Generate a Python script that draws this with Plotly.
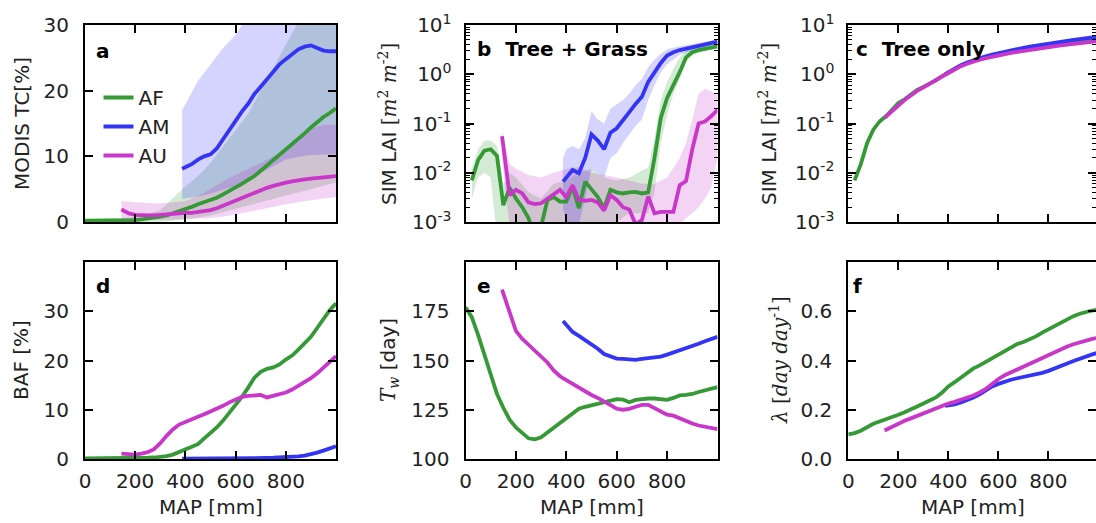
import plotly.graph_objects as go

# ---------------------------------------------------------------- data
# MAP bins (mm) for each climate class
MAP_AF = list(range(0, 1001, 25))
MAP_AM = [387] + list(range(400, 1001, 25))
MAP_AU = [145] + list(range(175, 1001, 25))

# (a) MODIS tree cover [%]
TC_AF = [0.2, 0.2, 0.2, 0.2, 0.2, 0.2, 0.2, 0.25, 0.3, 0.4, 0.5, 0.6, 0.8, 1.0, 1.3,
         1.6, 1.9, 2.3, 2.7, 3.0, 3.3, 3.7, 4.2, 4.7, 5.2, 5.8, 6.4, 7.0, 7.8, 8.6,
         9.4, 10.3, 11.0, 11.8, 12.6, 13.5, 14.4, 15.3, 16.0, 16.6, 17.3]
TC_AM = [8.1, 8.3, 8.8, 9.5, 10.0, 10.3, 11.2, 12.6, 14.0, 15.5, 16.8, 18.0, 19.5,
         20.6, 21.8, 23.0, 24.0, 24.8, 25.6, 26.3, 26.7, 26.9, 26.5, 26.1, 26.0, 26.0]
TC_AU = [1.9, 1.3, 1.1, 1.0, 1.0, 1.0, 1.1, 1.2, 1.3, 1.3, 1.4, 1.4, 1.5, 1.6, 1.8,
         2.1, 2.5, 2.9, 3.3, 3.7, 4.1, 4.5, 4.9, 5.2, 5.5, 5.8, 6.0, 6.2, 6.4, 6.5,
         6.6, 6.7, 6.8, 6.9, 7.0]

# (a) spread of tree cover
TC_AF_BAND_X = [0, 100, 200, 300, 387, 450, 500, 550, 600, 650, 700, 750, 800, 850, 900, 950, 1000]
TC_AF_LO = [0, 0, 0, 0.05, 0.3, 0.7, 1.0, 1.5, 2.0, 2.5, 3.0, 3.5, 4.0, 4.5, 5.0, 5.5, 6.0]
TC_AF_HI = [0.4, 0.5, 0.8, 1.8, 5.0, 7.0, 9.0, 11.5, 14.0, 16.5, 20.0, 23.5, 27.0, 30.5, 32, 32, 32]
TC_AM_BAND_X = [387, 450, 500, 550, 600, 625, 650, 700, 750, 800, 850, 900, 950, 1000]
TC_AM_LO = [3.5, 3.9, 4.3, 4.9, 5.5, 6.0, 6.5, 7.5, 8.5, 9.5, 9.9, 10.2, 10.3, 10.3]
TC_AM_HI = [17.0, 21.5, 24.0, 26.5, 28.5, 30.0, 31, 32, 33, 33, 33, 33, 33, 33]
TC_AU_BAND_X = [145, 200, 300, 400, 450, 500, 550, 600, 700, 800, 850, 900, 950, 1000]
TC_AU_LO = [0.5, 0.3, 0.3, 0.4, 0.5, 0.6, 0.8, 1.1, 1.9, 2.7, 3.0, 3.3, 3.6, 3.8]
TC_AU_HI = [3.2, 3.0, 2.8, 3.2, 4.0, 5.0, 6.2, 7.2, 9.0, 11.0, 12.5, 14.2, 14.8, 14.8]

# (b) simulated LAI, tree + grass [m2 m-2]
LAI_TG_AF = [None, 0.007, 0.018, 0.028, 0.030, 0.022, 0.0022, 0.005, 0.003, 0.002,
             0.0012, 0.0005, 0.0008, 0.0028, 0.0032, 0.0026, 0.0026, 0.0052, 0.0019,
             0.0066, 0.0045, 0.0032, 0.0019, 0.0045, 0.004, 0.0038, 0.004, 0.0041,
             0.0038, 0.004, 0.02, 0.13, 0.33, 0.6, 1.1, 2.2, 2.8, 3.1, 3.3, 3.5, 3.7]
LAI_TG_AM = [0.0066, 0.008, 0.0114, 0.0098, 0.02, 0.06, 0.045, 0.03, 0.065, 0.08,
             0.12, 0.17, 0.25, 0.35, 0.7, 1.1, 1.7, 2.4, 2.8, 3.1, 3.3, 3.6, 3.9, 4.1,
             4.4, 4.6]
LAI_TG_AU = [0.055, 0.0035, 0.0045, 0.0038, 0.0025, 0.0023, 0.0024, 0.003, 0.0038,
             0.0045, 0.0032, 0.0056, 0.0028, 0.0027, 0.0028, 0.0025, 0.0017, 0.0035,
             0.0028, 0.002, 0.0018, 0.0009, 0.0011, 0.0033, 0.0015, 0.0016, 0.0016,
             0.0016, 0.0056, 0.0068, 0.03, 0.1, 0.11, 0.14, 0.19]

LAI_AF_BAND_X = [25, 50, 75, 100, 125, 150, 175, 200, 250, 300, 350, 400, 450, 500,
                 550, 600, 650, 700, 725, 750, 775, 800, 825, 850, 875, 900, 950, 1000]
LAI_AF_HI = [0.012, 0.03, 0.045, 0.045, 0.035, 0.006, 0.01, 0.008, 0.004, 0.003, 0.006,
             0.007, 0.01, 0.012, 0.008, 0.007, 0.008, 0.011, 0.013, 0.05, 0.3, 0.7, 1.3,
             2.2, 3.0, 3.4, 3.8, 4.2]
LAI_AF_LO = [0.003, 0.008, 0.01, 0.008, 0.0005, 0.0003, 0.0008, 0.0005, 0.0003, 0.0003,
             0.0005, 0.0005, 0.0005, 0.0005, 0.0005, 0.001, 0.0015, 0.0015, 0.0015,
             0.004, 0.04, 0.15, 0.4, 0.8, 1.8, 2.4, 3.0, 3.3]
LAI_AM_BAND_X = [387, 400, 425, 450, 475, 500, 525, 550, 575, 600, 625, 650, 675, 700,
                 725, 750, 775, 800, 850, 900, 950, 1000]
LAI_AM_HI = [0.02, 0.03, 0.035, 0.03, 0.05, 0.18, 0.12, 0.1, 0.2, 0.25, 0.3, 0.4, 0.6,
             0.8, 1.4, 2.0, 2.6, 3.2, 3.7, 4.1, 4.6, 5.1]
LAI_AM_LO = [0.002, 0.001, 0.0008, 0.0009, 0.003, 0.012, 0.01, 0.008, 0.02, 0.025,
             0.04, 0.06, 0.09, 0.12, 0.3, 0.6, 1.1, 1.6, 2.5, 3.0, 3.5, 4.0]
LAI_AU_BAND_X = [145, 175, 200, 250, 300, 350, 400, 450, 500, 550, 600, 650, 700, 750,
                 800, 850, 875, 900, 925, 950, 975, 1000]
LAI_AU_HI = [0.07, 0.015, 0.012, 0.009, 0.008, 0.01, 0.012, 0.013, 0.01, 0.009, 0.008,
             0.007, 0.006, 0.006, 0.008, 0.02, 0.04, 0.12, 0.4, 0.5, 0.45, 0.4]
LAI_AU_LO = [0.02, 0.0008, 0.0008, 0.0006, 0.0006, 0.0006, 0.0006, 0.0006, 0.0005,
             0.0005, 0.0005, 0.0005, 0.0004, 0.0004, 0.0005, 0.0009, 0.0012, 0.0015,
             0.002, 0.003, 0.005, 0.02]

# (c) simulated LAI, tree only
LAI_T_AF = [None, 0.007, 0.015, 0.04, 0.075, 0.11, 0.14, 0.19, 0.26, 0.31, 0.38, 0.48,
            0.55, 0.64, 0.75, 0.92, 1.08, 1.3, 1.5, 1.7, 1.9, 2.1, 2.25, 2.45, 2.6, 2.8,
            3.0, 3.15, 3.35, 3.5, 3.7, 3.85, 4.0, 4.2, 4.4, 4.55, 4.75, 4.95, 5.1, 5.3, 5.5]
LAI_T_AM = [1.0, 1.1, 1.32, 1.52, 1.72, 1.92, 2.12, 2.3, 2.5, 2.68, 2.88, 3.08, 3.25,
            3.45, 3.62, 3.82, 4.0, 4.18, 4.38, 4.58, 4.78, 4.98, 5.18, 5.38, 5.58, 5.8]
LAI_T_AU = [0.13, 0.18, 0.24, 0.3, 0.37, 0.46, 0.54, 0.63, 0.74, 0.9, 1.06, 1.27, 1.46,
            1.64, 1.82, 1.98, 2.12, 2.28, 2.42, 2.58, 2.72, 2.86, 3.0, 3.14, 3.28, 3.42,
            3.56, 3.7, 3.84, 3.98, 4.12, 4.26, 4.4, 4.55, 4.7]

# (d) burned area fraction [%]
BAF_AF = [0.1, 0.1, 0.1, 0.1, 0.1, 0.1, 0.1, 0.15, 0.2, 0.2, 0.25, 0.3, 0.4, 0.6, 0.9,
          1.4, 2.0, 2.5, 3.0, 4.2, 5.3, 6.4, 7.8, 9.3, 10.9, 12.6, 14.5, 16.5, 17.7, 18.3,
          18.6, 19.2, 20.2, 21.0, 22.2, 23.4, 24.8, 26.6, 28.5, 30.2, 31.6]
BAF_AM = [0.05, 0.05, 0.05, 0.05, 0.06, 0.07, 0.08, 0.09, 0.1, 0.12, 0.14, 0.16, 0.18,
          0.2, 0.22, 0.25, 0.3, 0.35, 0.45, 0.55, 0.7, 0.95, 1.3, 1.7, 2.15, 2.6]
BAF_AU = [1.1, 0.9, 0.9, 1.1, 1.4, 2.0, 3.2, 4.7, 6.0, 7.0, 7.6, 8.1, 8.6, 9.1, 9.6,
          10.2, 10.8, 11.5, 12.1, 12.6, 12.8, 12.9, 13.0, 12.5, 12.8, 13.2, 13.5, 14.1,
          14.8, 15.6, 16.4, 17.4, 18.5, 19.7, 20.9]

# (e) wet-season length T_w [day]
TW_AF = [177, 172, 163, 153, 143, 133, 126, 120, 116, 113, 110.5, 110, 111, 113.5, 116,
         118.5, 121, 123.5, 125.5, 126.5, 127.3, 128.3, 129.2, 130, 130.4, 130.2, 128.8,
         130, 130.5, 130.7, 130.7, 130.5, 130, 131, 132.3, 132.5, 133, 134, 135, 135.8,
         136.5]
TW_AM = [170, 168, 164.5, 162.5, 160.5, 158.5, 156, 153.3, 152, 151, 150.8, 150.5, 150.3,
         150.8, 151.2, 151.7, 152, 153, 154, 155, 156, 157.3, 158.5, 159.8, 160.8, 162]
TW_AU = [186, 174, 165, 161, 158, 155.5, 152.5, 149, 145, 142, 140, 138, 136.5, 134.5,
         132.5, 131, 129, 127, 125.5, 125, 125.5, 126.5, 127.5, 127.5, 126, 124, 122.5,
         122, 120.5, 119, 118, 117, 116.3, 115.7, 115.2]

# (f) rainfall frequency lambda [day day-1]
LAM_AF = [0.10, 0.105, 0.115, 0.13, 0.143, 0.152, 0.16, 0.17, 0.18, 0.19, 0.2, 0.213,
          0.225, 0.237, 0.25, 0.27, 0.295, 0.312, 0.33, 0.35, 0.368, 0.38, 0.395, 0.41,
          0.425, 0.44, 0.455, 0.467, 0.475, 0.485, 0.498, 0.513, 0.527, 0.54, 0.555,
          0.567, 0.58, 0.59, 0.598, 0.603, 0.607]
LAM_AM = [0.216, 0.218, 0.222, 0.23, 0.238, 0.25, 0.263, 0.28, 0.295, 0.305, 0.315,
          0.322, 0.328, 0.333, 0.337, 0.343, 0.35, 0.358, 0.367, 0.377, 0.388, 0.398,
          0.408, 0.417, 0.425, 0.433]
LAM_AU = [0.116, 0.132, 0.145, 0.155, 0.165, 0.175, 0.185, 0.195, 0.205, 0.217, 0.225,
          0.232, 0.24, 0.247, 0.258, 0.27, 0.285, 0.305, 0.325, 0.34, 0.352, 0.362, 0.375,
          0.388, 0.4, 0.412, 0.425, 0.437, 0.447, 0.457, 0.466, 0.474, 0.481, 0.488, 0.493]

LOG_TICKS = [1e-3, 1e-2, 1e-1, 1, 10]
LOG_TEXT = ["10<sup>-3</sup>", "10<sup>-2</sup>", "10<sup>-1</sup>", "10<sup>0</sup>", "10<sup>1</sup>"]

# ---------------------------------------------------------------- style
W, H = 1096, 523
LINE = {"AF": "#359a35", "AM": "#3434f5", "AU": "#c936c9"}
FILL = {"AF": "rgba(0,128,0,0.17)", "AM": "rgba(0,0,255,0.17)", "AU": "rgba(191,0,191,0.17)"}
FONT = "DejaVu Sans"
SERIF = "DejaVu Serif"
TXT = "#222222"

COLS = [(85, 336), (465.5, 717.5), (848.3, 1096)]
ROWS = [(25, 222), (262, 459)]


def xdom(c):
    return [COLS[c][0] / W, COLS[c][1] / W]


def ydom(r):
    return [1 - ROWS[r][1] / H, 1 - ROWS[r][0] / H]


fig = go.Figure()


def add_band(k, xs, lo, hi, color):
    fig.add_trace(go.Scatter(
        x=list(xs) + list(xs)[::-1], y=list(hi) + list(lo)[::-1],
        mode="lines", line=dict(width=0), fill="toself", fillcolor=color,
        hoverinfo="skip", showlegend=False,
        xaxis=f"x{k}", yaxis=f"y{k}"))


def add_line(k, xs, ys, cls, legend=False):
    fig.add_trace(go.Scatter(
        x=xs, y=ys, mode="lines", name=cls,
        line=dict(color=LINE[cls], width=3.8), connectgaps=False,
        showlegend=legend, xaxis=f"x{k}", yaxis=f"y{k}"))


# (a)
add_band(1, TC_AF_BAND_X, TC_AF_LO, TC_AF_HI, FILL["AF"])
add_band(1, TC_AM_BAND_X, TC_AM_LO, TC_AM_HI, FILL["AM"])
add_band(1, TC_AU_BAND_X, TC_AU_LO, TC_AU_HI, FILL["AU"])
add_line(1, MAP_AF, TC_AF, "AF", True)
add_line(1, MAP_AM, TC_AM, "AM", True)
add_line(1, MAP_AU, TC_AU, "AU", True)

# (b)
add_band(2, LAI_AF_BAND_X, LAI_AF_LO, LAI_AF_HI, FILL["AF"])
add_band(2, LAI_AM_BAND_X, LAI_AM_LO, LAI_AM_HI, FILL["AM"])
add_band(2, LAI_AU_BAND_X, LAI_AU_LO, LAI_AU_HI, FILL["AU"])
add_line(2, MAP_AF, LAI_TG_AF, "AF")
add_line(2, MAP_AM, LAI_TG_AM, "AM")
add_line(2, MAP_AU, LAI_TG_AU, "AU")

# (c)
add_line(3, MAP_AF, LAI_T_AF, "AF")
add_line(3, MAP_AM, LAI_T_AM, "AM")
add_line(3, MAP_AU, LAI_T_AU, "AU")

# (d)
add_line(4, MAP_AF, BAF_AF, "AF")
add_line(4, MAP_AM, BAF_AM, "AM")
add_line(4, MAP_AU, BAF_AU, "AU")

# (e)
add_line(5, MAP_AF, TW_AF, "AF")
add_line(5, MAP_AM, TW_AM, "AM")
add_line(5, MAP_AU, TW_AU, "AU")

# (f)
add_line(6, MAP_AF, LAM_AF, "AF")
add_line(6, MAP_AM, LAM_AM, "AM")
add_line(6, MAP_AU, LAM_AU, "AU")

axis_common = dict(
    showline=True, linecolor="black", linewidth=2, mirror="ticks",
    ticks="inside", ticklen=8, tickwidth=1.5, tickcolor="black",
    showgrid=False, zeroline=False, automargin=False,
    tickfont=dict(family=FONT, size=20, color=TXT),
)

layout_axes = {}
for k in range(1, 7):
    r, c = (0 if k <= 3 else 1), (k - 1) % 3
    xend = 1000 if c < 2 else 990
    layout_axes[f"xaxis{k}"] = dict(
        axis_common, domain=xdom(c), anchor=f"y{k}", range=[0, xend],
        tickvals=[0, 200, 400, 600, 800], showticklabels=(r == 1),
        ticklabelstandoff=3)

minor_log = dict(ticks="inside", ticklen=4, tickwidth=1, tickcolor="black", dtick="D1", showgrid=False)

layout_axes["yaxis1"] = dict(axis_common, domain=ydom(0), anchor="x1", range=[0, 30],
                             tickvals=[0, 10, 20, 30], ticklabelstandoff=10)
layout_axes["yaxis2"] = dict(axis_common, domain=ydom(0), anchor="x2", type="log",
                             range=[-3, 1], tickvals=LOG_TICKS, ticktext=LOG_TEXT,
                             minor=minor_log, ticklabelstandoff=8)
layout_axes["yaxis3"] = dict(axis_common, domain=ydom(0), anchor="x3", type="log",
                             range=[-3, 1], tickvals=LOG_TICKS, ticktext=LOG_TEXT,
                             minor=minor_log, ticklabelstandoff=8)
layout_axes["yaxis4"] = dict(axis_common, domain=ydom(1), anchor="x4", range=[0, 40],
                             tickvals=[0, 10, 20, 30], ticklabelstandoff=10)
layout_axes["yaxis5"] = dict(axis_common, domain=ydom(1), anchor="x5", range=[100, 200],
                             tickvals=[100, 125, 150, 175], ticklabelstandoff=10)
layout_axes["yaxis6"] = dict(axis_common, domain=ydom(1), anchor="x6", range=[0, 0.8],
                             tickvals=[0, 0.2, 0.4, 0.6], tickformat=".1f",
                             ticklabelstandoff=10)


def ann(text, x, y, size=20, angle=0, xanchor="center", bold=False):
    return dict(text=f"<b>{text}</b>" if bold else text, x=x / W, y=1 - y / H,
                xref="paper", yref="paper", showarrow=False, textangle=angle,
                xanchor=xanchor, yanchor="middle",
                font=dict(family=FONT, size=size, color="black" if bold else TXT))


def serif(s):
    return f"<span style='font-family:{SERIF}'>{s}</span>"


lai_unit = serif("[<i>m</i><sup>2</sup> <i>m</i><sup>-2</sup>]")
annotations = [
    ann("MODIS TC[%]", 22, 124, angle=-90),
    ann("SIM LAI " + lai_unit, 388, 124, angle=-90),
    ann("SIM LAI " + lai_unit, 768, 124, angle=-90),
    ann("BAF [%]", 21, 360, angle=-90),
    ann(serif("<i>T<sub>w</sub></i>") + " [day]", 389, 360, angle=-90),
    ann(serif("<i>λ</i> [<i>day day</i><sup>-1</sup>]"), 779, 360, angle=-90),
    ann("MAP [mm]", 210.5, 507),
    ann("MAP [mm]", 591.5, 507),
    ann("MAP [mm]", 973, 507),
    ann("a", 94, 51, xanchor="left", bold=True),
    ann("b\u00a0\u00a0Tree + Grass", 475, 49, xanchor="left", bold=True),
    ann("c\u00a0\u00a0Tree only", 854, 49, xanchor="left", bold=True),
    ann("d", 94, 286, xanchor="left", bold=True),
    ann("e", 475, 286, xanchor="left", bold=True),
    ann("f", 851, 286, xanchor="left", bold=True),
]

fig.update_layout(
    width=W, height=H, margin=dict(l=0, r=0, t=0, b=0, autoexpand=False),
    paper_bgcolor="white", plot_bgcolor="white",
    font=dict(family=FONT, size=20, color=TXT),
    showlegend=True,
    legend=dict(x=98.5 / W, y=1 - 78 / H, xanchor="left", yanchor="top",
                bgcolor="rgba(0,0,0,0)", borderwidth=0,
                font=dict(family=FONT, size=20, color=TXT), tracegroupgap=0),
    annotations=annotations,
    **layout_axes,
)

fig.write_html("out.html")
